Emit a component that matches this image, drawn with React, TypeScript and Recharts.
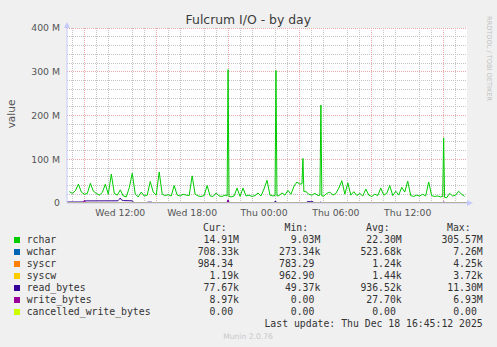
import { LineChart, Line, XAxis, YAxis, CartesianGrid } from "recharts";

// time axis in hours counted from Wed 00:00
const domainStart = 7.55;
const domainEnd = 40.95;

const timeTicks = [12, 18, 24, 30, 36];
const timeLabels = ["Wed 12:00", "Wed 18:00", "Thu 00:00", "Thu 06:00", "Thu 12:00"];
const valueTicks = [0, 100, 200, 300, 400];
const valueMax = 400;

const minorHours = [8, 10, 11, 13, 14, 16, 17, 19, 20, 22, 23, 25, 26, 28, 29, 31, 32, 34, 35, 37, 38, 40];
const majorHours = [9, 12, 15, 18, 21, 24, 27, 30, 33, 36, 39];
const minorValues = [20, 40, 60, 80, 120, 140, 160, 180, 220, 240, 260, 280, 320, 340, 360, 380];
const majorValues = [100, 200, 300, 400];

// rchar, in M, every 15 min from 07:45
const rcharStart = 7.75;
const rcharStep = 0.25;
const rcharValues = [
  26, 22, 28, 43, 25, 20, 22, 45, 27, 22, 18, 24, 43, 20, 66, 22, 18, 30, 16, 14,
  35, 68, 20, 14, 25, 16, 18, 49, 25, 18, 71, 20, 17, 19, 16, 40, 18, 16, 20, 18,
  17, 62, 20, 16, 15, 17, 40, 16, 15, 23, 16, 15, 18, 305, 14, 16, 34, 15, 34, 16,
  18, 15, 17, 23, 16, 32, 52, 18, 16, 303, 17, 23, 18, 29, 20, 38, 48, 43, 102, 26,
  20, 18, 22, 17, 224, 16, 22, 25, 18, 22, 34, 51, 20, 46, 18, 26, 17, 22, 16, 32,
  18, 15, 20, 17, 34, 18, 22, 40, 17, 27, 18, 36, 25, 50, 17, 15, 18, 16, 20, 16,
  48, 17, 15, 16, 14, 149, 12, 22, 16, 18, 27, 20, 15,
];
// narrow shoulders around the big spikes
const rcharSpikeTimes = [20.92, 21.08, 24.92, 25.08, 27.17, 27.33, 28.67, 28.83, 38.92, 39.08];
const rcharSpikeValues = [16, 15, 17, 16, 44, 26, 18, 16, 15, 13];

const wcharTimes = [7.55, 14, 20.9, 21, 21.1, 30, 40.95];
const wcharValues = [0.52, 0.48, 0.5, 7.26, 0.5, 0.55, 0.71];

const syscrTimes = [7.55, 12, 18, 24, 30, 36, 40.95];
const syscrValues = [0.0012, 0.0011, 0.0013, 0.0012, 0.0014, 0.0012, 0.00098];
const syscwTimes = [7.55, 12, 18, 24, 30, 36, 40.95];
const syscwValues = [0.0014, 0.0013, 0.0015, 0.0014, 0.0016, 0.0014, 0.0012];

const readTimes = [
  7.55, 8.9, 9.05, 11.8, 11.9, 12.0, 12.1, 12.25, 13.0, 13.15, 14.2, 14.3, 14.6, 14.7,
  20.9, 21.0, 21.1, 24.8, 24.9, 25.0, 25.1, 27.5, 27.6, 28.1, 28.2, 28.65, 28.75, 28.85,
  38.9, 39.0, 39.1, 40.95,
];
const readValues = [
  2.3, 2.3, 4.8, 5, 8, 11.3, 7, 5.5, 5, 0.08, 0.08, 2, 2, 0.08,
  0.08, 5, 0.08, 0.08, 3.5, 3.8, 0.08, 0.08, 3, 3, 0.08, 0.08, 2.5, 0.08,
  0.08, 3, 0.08, 0.08,
];

const writeTimes = [7.55, 8.9, 9.0, 9.1, 20.9, 21.0, 21.1, 40.95];
const writeValues = [0.01, 0.01, 6, 0.01, 0.01, 6.93, 0.01, 0.009];

const cancelledTimes = [7.55, 40.95];
const cancelledValues = [0, 0];

const legendNames = ["rchar", "wchar", "syscr", "syscw", "read_bytes", "write_bytes", "cancelled_write_bytes"];
const legendColors = ["#00cc00", "#0066b3", "#ff8000", "#ffcc00", "#330099", "#990099", "#ccff00"];
const curValues = ["14.91M", "708.33k", "984.34 ", "1.19k", "77.67k", "8.97k", "0.00 "];
const minValues = ["9.03M", "273.34k", "783.29 ", "962.90 ", "49.37k", "0.00 ", "0.00 "];
const avgValues = ["22.30M", "523.68k", "1.24k", "1.44k", "936.52k", "27.70k", "0.00 "];
const maxValues = ["305.57M", "7.26M", "4.25k", "3.72k", "11.30M", "6.93M", "0.00 "];

const pairs = (times: number[], values: number[]) =>
  times.map((t, i) => ({ t, v: values[i] }));

const rcharData = [
  ...rcharValues.map((v, i) => ({ t: rcharStart + i * rcharStep, v })),
  ...pairs(rcharSpikeTimes, rcharSpikeValues),
].sort((a, b) => a.t - b.t);

const series = [
  { data: rcharData, color: legendColors[0] },
  { data: pairs(wcharTimes, wcharValues), color: legendColors[1] },
  { data: pairs(syscrTimes, syscrValues), color: legendColors[2] },
  { data: pairs(syscwTimes, syscwValues), color: legendColors[3] },
  { data: pairs(readTimes, readValues), color: legendColors[4] },
  { data: pairs(writeTimes, writeValues), color: legendColors[5] },
  { data: pairs(cancelledTimes, cancelledValues), color: legendColors[6] },
];

const sans = "'DejaVu Sans', sans-serif";
const mono = "'DejaVu Sans Mono', monospace";
const axisBlue = "#c4cbfa";

const rowTop = (i: number) => 233.5 + i * 12.05;

// horizontal grid rows, placed in the plot area offset
const rowsAt = (values: number[]) => (props: any) => {
  const scale = props?.yAxis?.scale;
  if (typeof scale === "function") return values.map((v) => scale(v));
  const { top, height } = props.offset;
  return values.map((v) => top + height * (1 - v / valueMax));
};

export default function App() {
  return (
    <div
      style={{
        position: "absolute",
        left: 0,
        top: 0,
        width: 497,
        height: 347,
        background: "#f0f0f0",
        fontFamily: sans,
      }}
    >
      <LineChart
        width={497}
        height={347}
        margin={{ top: 28, right: 30, bottom: 124, left: 0 }}
      >
        <CartesianGrid
          fill="#ffffff"
          stroke="#c4c4c4"
          strokeDasharray="1 1"
          shapeRendering="crispEdges"
          verticalValues={minorHours}
          horizontalCoordinatesGenerator={rowsAt(minorValues)}
        />
        <CartesianGrid
          stroke="#eba9a9"
          strokeDasharray="1 1"
          shapeRendering="crispEdges"
          verticalValues={majorHours}
          horizontalCoordinatesGenerator={rowsAt(majorValues)}
        />
        <XAxis
          dataKey="t"
          type="number"
          domain={[domainStart, domainEnd]}
          allowDataOverflow
          ticks={timeTicks}
          tickFormatter={(v: number) => timeLabels[timeTicks.indexOf(v)]}
          height={20}
          tickSize={0}
          tickMargin={6}
          tickLine={false}
          axisLine={{ stroke: axisBlue }}
          tick={{ fill: "#555555", fontSize: 9.3, fontFamily: sans }}
        />
        <YAxis
          type="number"
          domain={[0, valueMax]}
          allowDataOverflow
          ticks={valueTicks}
          tickFormatter={(v: number) => (v === 0 ? "0" : `${v} M`)}
          width={67}
          tickSize={0}
          tickMargin={7}
          tickLine={false}
          axisLine={{ stroke: axisBlue }}
          tick={{ fill: "#555555", fontSize: 9.3, fontFamily: sans }}
        />
        {series.map((s, i) => (
          <Line
            key={i}
            data={s.data}
            dataKey="v"
            type="linear"
            stroke={s.color}
            strokeWidth={1}
            dot={false}
            activeDot={false}
            isAnimationActive={false}
          />
        ))}
      </LineChart>

      <svg
        width={497}
        height={347}
        style={{ position: "absolute", left: 0, top: 0, pointerEvents: "none" }}
      >
        <text x={248.3} y={23.5} textAnchor="middle" fontSize={12.4} fill="#3c3c3c" fontFamily={sans}>
          Fulcrum I/O - by day
        </text>
        <text
          transform="translate(15,114) rotate(-90)"
          textAnchor="middle"
          fontSize={10.5}
          fill="#555555"
          fontFamily={sans}
        >
          value
        </text>
        <text
          transform="translate(486.5,58.5) rotate(90)"
          textAnchor="middle"
          fontSize={6.6}
          fill="#c0c0c0"
          fontFamily={sans}
        >
          RRDTOOL / TOBI OETIKER
        </text>
        <polygon points="67,22 64,28 70,28" fill={axisBlue} />
        <polygon points="473,203 467,200 467,206" fill={axisBlue} />
        <line x1={467} y1={203} x2={469} y2={203} stroke={axisBlue} />
        <text x={248} y={339} textAnchor="middle" fontSize={7.6} fill="#c8c8c8" fontFamily={sans}>
          Munin 2.0.76
        </text>
      </svg>

      <div
        style={{
          position: "absolute",
          left: 0,
          top: 0,
          width: 497,
          fontFamily: mono,
          fontSize: 9.8,
          color: "#333333",
          whiteSpace: "pre",
          lineHeight: "12px",
        }}
      >
        {["Cur:", "Min:", "Avg:", "Max:"].map((h, i) => (
          <div key={h} style={{ position: "absolute", top: 221.7, left: [203, 284.5, 366, 447][i] }}>
            {h}
          </div>
        ))}
        {legendNames.map((name, i) => (
          <div key={name}>
            <div
              style={{
                position: "absolute",
                left: 14,
                top: rowTop(i) + 3,
                width: 6,
                height: 6,
                background: legendColors[i],
              }}
            />
            <div style={{ position: "absolute", left: 26.7, top: rowTop(i) }}>{name}</div>
            {[curValues, minValues, avgValues, maxValues].map((col, j) => (
              <div
                key={j}
                style={{
                  position: "absolute",
                  right: 497 - [239, 320.3, 401.7, 482.7][j],
                  top: rowTop(i),
                  textAlign: "right",
                }}
              >
                {col[i]}
              </div>
            ))}
          </div>
        ))}
        <div style={{ position: "absolute", right: 497 - 482.7, top: rowTop(7) }}>
          Last update: Thu Dec 18 16:45:12 2025
        </div>
      </div>
    </div>
  );
}
